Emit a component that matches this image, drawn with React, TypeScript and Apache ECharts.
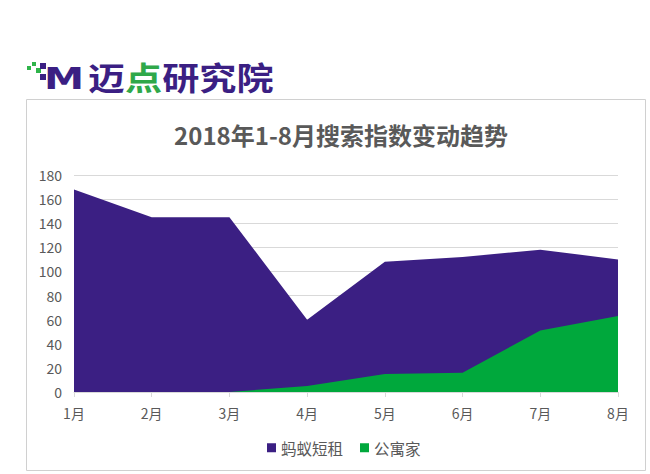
import React, { useEffect, useRef } from "react";
import * as echarts from "echarts";

const months = ["1月", "2月", "3月", "4月", "5月", "6月", "7月", "8月"];
const mayiValues = [168, 145, 145, 60, 108, 112, 118, 110];
const gongyuValues = [0, 0, 0, 5, 15, 16, 51, 63];
const seriesNames = ["蚂蚁短租", "公寓家"];
const titleText = "2018年1-8月搜索指数变动趋势";

export default function App() {
  const ref = useRef<HTMLDivElement>(null);
  useEffect(() => {
    if (!ref.current) return;
    const chart = echarts.init(ref.current, null, { renderer: "svg" });
    const font = "'Microsoft YaHei', 'Noto Sans CJK SC', sans-serif";
    const purple = "#3b1f83";
    const green = "#00a83c";
    chart.setOption({
      animation: false,
      backgroundColor: "#ffffff",
      title: {
        text: titleText,
        left: 336,
        textAlign: "center",
        top: 117,
        textStyle: { fontSize: 24, fontWeight: "bold", color: "#595959", fontFamily: font },
      },
      legend: {
        data: seriesNames,
        top: 435,
        left: 262,
        icon: "rect",
        itemWidth: 9,
        itemHeight: 9,
        itemGap: 17,
        textStyle: { fontSize: 15.5, color: "#595959", fontFamily: font },
      },
      grid: { left: 74, right: 32, top: 175, bottom: 82 },
      xAxis: {
        type: "category",
        data: months,
        boundaryGap: false,
        axisLine: { lineStyle: { color: "#d9d9d9" } },
        axisTick: { show: true, length: 5, lineStyle: { color: "#d9d9d9" } },
        axisLabel: { color: "#595959", fontSize: 14, margin: 14, fontFamily: font },
      },
      yAxis: {
        type: "value",
        min: 0,
        max: 180,
        interval: 20,
        axisLine: { show: false },
        axisTick: { show: false },
        axisLabel: { color: "#595959", fontSize: 14, margin: 12, fontFamily: font },
        splitLine: { lineStyle: { color: "#d9d9d9" } },
      },
      series: [
        {
          name: seriesNames[0],
          type: "line",
          data: mayiValues,
          symbol: "none",
          lineStyle: { width: 0 },
          areaStyle: { color: purple, opacity: 1 },
          itemStyle: { color: purple },
        },
        {
          name: seriesNames[1],
          type: "line",
          data: gongyuValues,
          symbol: "none",
          lineStyle: { width: 0 },
          areaStyle: { color: green, opacity: 1 },
          itemStyle: { color: green },
        },
      ],
      graphic: [
        {
          type: "rect",
          shape: { x: 26.5, y: 99.5, width: 619, height: 371 },
          style: { fill: "none", stroke: "#d0d0d0", lineWidth: 1 },
          z: -1,
        },
        { type: "rect", shape: { x: 27, y: 66, width: 4, height: 4 }, style: { fill: "#2fb44a" } },
        { type: "rect", shape: { x: 32, y: 62, width: 4, height: 4 }, style: { fill: "#2fb44a" } },
        { type: "rect", shape: { x: 36, y: 68, width: 5, height: 5 }, style: { fill: "#2fb44a" } },
        { type: "rect", shape: { x: 40, y: 63, width: 6, height: 6 }, style: { fill: purple } },
        { type: "rect", shape: { x: 40, y: 74, width: 6, height: 6 }, style: { fill: purple } },
        {
          type: "text",
          x: 44,
          y: 63,
          scaleX: 1.3,
          style: {
            text: "M",
            font: "bold 31px 'DejaVu Sans', sans-serif",
            fill: purple,
          },
        },
        {
          type: "text",
          x: 88,
          y: 60,
          scaleX: 1.16,
          style: {
            text: "{p|迈}{g|点}{p|研究院}",
            rich: {
              p: { fontSize: 32, fontWeight: "bold", fill: purple, fontFamily: font },
              g: { fontSize: 32, fontWeight: "bold", fill: "#2fa84a", fontFamily: font },
            },
          },
        },
      ],
    });
    return () => chart.dispose();
  }, []);
  return (
    <div
      ref={ref}
      style={{ position: "fixed", left: 0, top: 0, width: 650, height: 474 }}
    />
  );
}
